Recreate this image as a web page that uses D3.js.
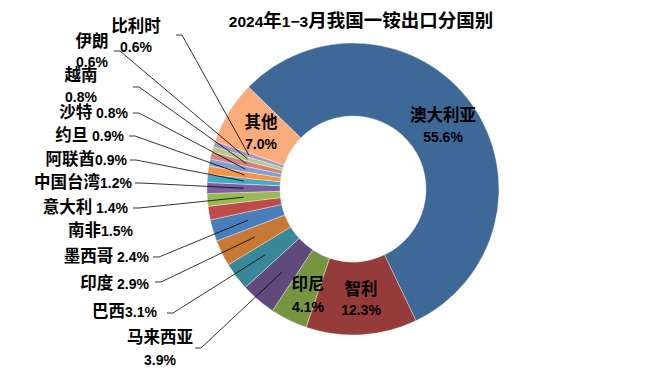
<!DOCTYPE html>
<html><head><meta charset="utf-8">
<script src="https://cdn.jsdelivr.net/npm/d3@7"></script>
<style>
html,body{margin:0;padding:0;background:#fff;}
svg{display:block;}
</style>
</head><body>
<svg id="chart" width="659" height="378"></svg>
<script>
// ---- data ----
const title = "2024年1-3月我国一铵出口分国别";
const categories = ["澳大利亚","智利","印尼","马来西亚","巴西","印度","墨西哥","南非","意大利","中国台湾","阿联酋","约旦","沙特","越南","伊朗","比利时","其他"];
const shares = [55.6,12.3,4.1,3.9,3.1,2.9,2.4,1.5,1.4,1.2,0.9,0.9,0.8,0.8,0.6,0.6,7.0];
const sliceColors = ["#3E6898","#953B39","#779441","#604A7B","#39889A","#C67834","#4A7EBB","#BE4B48","#98B954","#7D5FA0","#46AAC5","#F69545","#7F9FD0","#D48280","#B4CB85","#A596C1","#F9AB7B"];

// ---- layout (positions/styles, not data) ----
const cx = 353, cy = 189, outerR = 146, innerR = 73;
const startDeg = -45.7;
const LAT = "'Liberation Sans', Arial, sans-serif";
const CJK = "'Noto Sans CJK SC', sans-serif";
const labelLayout = {
  "澳大利亚": {x:443, y:121, anchor:"middle", two:true, gap:21},
  "智利":     {x:361, y:295, anchor:"middle", two:true, gap:20},
  "印尼":     {x:308, y:290, anchor:"middle", two:true, gap:22},
  "其他":     {x:261, y:128, anchor:"middle", two:true, gap:21},
  "马来西亚": {x:160, y:343, anchor:"middle", two:true, gap:22, leader:[195,348]},
  "巴西":     {x:157, y:317, anchor:"end", leader:[167,313]},
  "印度":     {x:149, y:289, anchor:"end", space:true, leader:[155,282]},
  "墨西哥":   {x:149, y:262, anchor:"end", space:true, leader:[153,257]},
  "南非":     {x:133, y:236, anchor:"end"},
  "意大利":   {x:128, y:213, anchor:"end", space:true, leader:[133,208]},
  "中国台湾": {x:132, y:188, anchor:"end", leader:[135,183]},
  "阿联酋":   {x:127, y:165, anchor:"end", leader:[130,160]},
  "约旦":     {x:124, y:141, anchor:"end", space:true, leader:[129,136]},
  "沙特":     {x:128, y:118, anchor:"end", space:true, leader:[133,113]},
  "越南":     {x:81,  y:81,  anchor:"middle", two:true, gap:21, leader:[133,87]},
  "伊朗":     {x:92,  y:47,  anchor:"middle", two:true, gap:20, leader:[114,51]},
  "比利时":   {x:136, y:32,  anchor:"middle", two:true, gap:20, leader:[176,35]}
};

const svg = d3.select("#chart");
const isCJK = ch => /[\u2E80-\u9FFF\uFF00-\uFFEF]/.test(ch);

function addRuns(textSel, str, cjkSize, latSize){
  const runs = [];
  for (const ch of str){
    const c = isCJK(ch);
    if (runs.length && runs[runs.length-1].c === c) runs[runs.length-1].s += ch;
    else runs.push({c, s:ch});
  }
  runs.forEach(r => {
    textSel.append("tspan")
      .attr("font-family", r.c ? CJK : LAT)
      .attr("font-size", r.c ? cjkSize : latSize)
      .text(r.s);
  });
}

// title
const t = svg.append("text").attr("x", 361).attr("y", 27)
  .attr("text-anchor","middle").attr("font-weight","bold").attr("fill","#000");
addRuns(t, title.replace("-", "\u2212"), 18.5, 15.5);

// pie
const a0 = startDeg*Math.PI/180;
const pie = d3.pie().sort(null).value(d=>d.v).startAngle(a0).endAngle(a0+2*Math.PI);
const data = categories.map((c,i)=>({name:c, v:shares[i], color:sliceColors[i]}));
const arcs = pie(data);
const arc = d3.arc().innerRadius(innerR).outerRadius(outerR);

const g = svg.append("g").attr("transform",`translate(${cx},${cy})`);
g.selectAll("path.slice").data(arcs).join("path")
  .attr("class","slice")
  .attr("d", arc)
  .attr("fill", d=>d.data.color)
  .attr("stroke","#ffffff").attr("stroke-opacity",0.6).attr("stroke-width",0.6);

const fmt = d3.format(".1f");

// leader lines
const leaders = svg.append("g");
arcs.forEach(d=>{
  const L = labelLayout[d.data.name];
  if (!L || !L.leader) return;
  const [px,py] = arc.centroid(d);
  const ex = cx+px, ey = cy+py;
  const [sx,sy] = L.leader;
  leaders.append("path")
    .attr("d", `M${sx},${sy}H${sx+6}L${ex},${ey}`)
    .attr("fill","none").attr("stroke","#000").attr("stroke-width",0.8);
});

// labels
const labels = svg.append("g").attr("font-weight","bold").attr("fill","#000");
arcs.forEach(d=>{
  const L = labelLayout[d.data.name];
  const pct = fmt(d.data.v) + "%";
  if (L.two){
    const t1 = labels.append("text").attr("x",L.x).attr("y",L.y).attr("text-anchor",L.anchor);
    addRuns(t1, d.data.name, 16.5, 14);
    const t2 = labels.append("text").attr("x",L.x).attr("y",L.y+L.gap).attr("text-anchor",L.anchor);
    addRuns(t2, pct, 16.5, 14);
  } else {
    const t1 = labels.append("text").attr("x",L.x).attr("y",L.y).attr("text-anchor",L.anchor);
    addRuns(t1, d.data.name + (L.space ? " " : "") + pct, 16.5, 14);
  }
});
</script>
</body></html>
